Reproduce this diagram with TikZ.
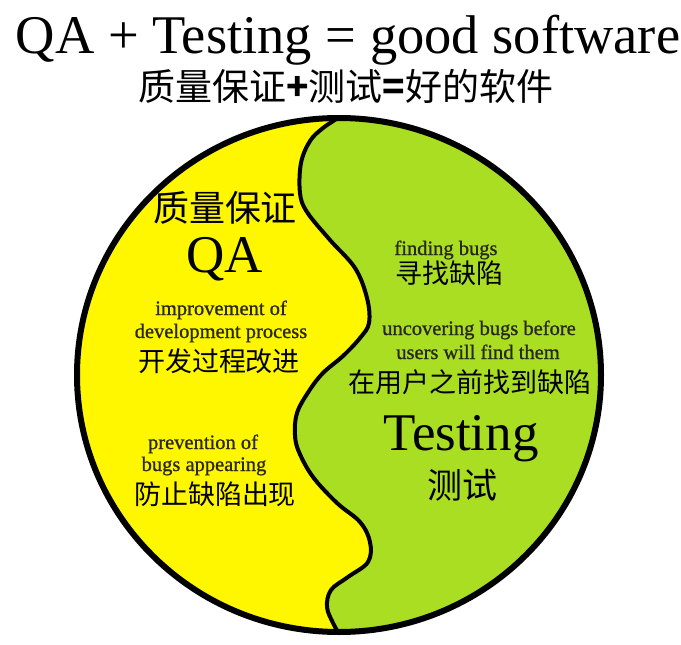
\documentclass[tikz,border=0pt]{standalone}
\usepackage{fontspec}
\setmainfont{Liberation Serif}
\newfontfamily\smallserif[FakeBold=0.9]{Liberation Serif}
\newfontfamily\cjk{Noto Sans CJK SC}
\definecolor{qayellow}{RGB}{255,247,0}
\definecolor{tgreen}{RGB}{170,222,34}
\definecolor{smalltxt}{RGB}{40,40,20}
\tikzset{
  en/.style={font=\smallserif\fontsize{20.5}{23}\selectfont, text=smalltxt, anchor=base, inner sep=0pt},
  zh/.style={font=\cjk\fontsize{27}{30}\selectfont, anchor=center, inner sep=0pt},
  big/.style={font=\fontsize{53}{60}\selectfont, anchor=base, inner sep=0pt},
  border/.style={line width=6pt, draw=black},
  divider/.style={line width=4pt, draw=black, line join=round}
}
\begin{document}
\begin{tikzpicture}[x=1pt,y=-1pt]
\useasboundingbox (0,0) rectangle (681,645);
\fill[white] (0,0) rectangle (681,645);
% circle
\fill[qayellow] (339,375) ellipse [x radius=262pt, y radius=257pt];
\begin{scope}
  \clip (339,375) ellipse [x radius=262pt, y radius=257pt];
  \fill[tgreen] plot[smooth, tension=0.6] coordinates {(348,104) (340,116) (323,128) (310,141) (301,163) (300,193) (307,212) (330,240) (355,268) (367,298) (369,323) (360,338) (343,356) (323,373) (309,391) (297,413) (295,435) (299,452) (313,477) (337,503) (360,522) (370,542) (368,562) (348,577) (331,590) (327,607) (333,623) (340,636) (343,648)} -- (700,648) -- (700,100) -- cycle;
  \draw[divider] plot[smooth, tension=0.6] coordinates {(348,104) (340,116) (323,128) (310,141) (301,163) (300,193) (307,212) (330,240) (355,268) (367,298) (369,323) (360,338) (343,356) (323,373) (309,391) (297,413) (295,435) (299,452) (313,477) (337,503) (360,522) (370,542) (368,562) (348,577) (331,590) (327,607) (333,623) (340,636) (343,648)};
\end{scope}
\draw[border] (339,375) ellipse [x radius=262pt, y radius=257pt];
% titles
\node[big, font=\fontsize{54.5}{60}\selectfont] (title) at (348,53) {QA + Testing = good software};
\node[zh, font=\cjk\fontsize{37}{40}\selectfont] (subtitle) at (346,86) {质量保证{\bfseries +}测试{\bfseries =}好的软件};
% QA side
\node[zh, font=\cjk\fontsize{36}{40}\selectfont] (qazh) at (225,208) {质量保证};
\node[big] (qa) at (225,272) {QA};
\node[en] (imp1) at (221,315) {improvement of};
\node[en] (imp2) at (221,338) {development process};
\node[zh] (impzh) at (219,361) {开发过程改进};
\node[en] (prev1) at (203,449) {prevention of};
\node[en] (prev2) at (204,471) {bugs appearing};
\node[zh] (prevzh) at (215,494) {防止缺陷出现};
% Testing side
\node[en] (find) at (446,255) {finding bugs};
\node[zh] (findzh) at (449,273) {寻找缺陷};
\node[en] (unc1) at (479,335) {uncovering bugs before};
\node[en] (unc2) at (478,359) {users will find them};
\node[zh] (unczh) at (470,382) {在用户之前找到缺陷};
\node[big] (testing) at (461,450) {Testing};
\node[zh, font=\cjk\fontsize{35}{40}\selectfont] (testzh) at (462,485) {测试};
\end{tikzpicture}
\end{document}
